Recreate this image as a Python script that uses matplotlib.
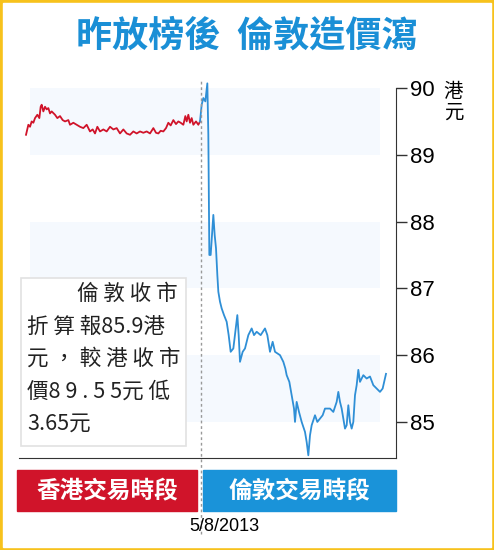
import matplotlib
matplotlib.use('Agg')
import matplotlib.pyplot as plt
from matplotlib.patches import Rectangle

plt.rcParams['font.family'] = ['Noto Sans CJK TC', 'DejaVu Sans']

# time axis (arbitrary session units), prices in HK$
hk_x = [78, 85, 90, 95, 100, 105, 112, 118, 122, 125, 130, 135, 140, 145, 150, 155, 165, 172, 180, 188, 195, 205, 210, 220, 230,
        240, 250, 260, 270, 278, 285, 292, 300, 310, 320, 330, 340, 350, 360, 370, 380, 390, 400, 410, 420, 430, 440,
        450, 460, 468, 475, 482, 490, 498, 505, 512, 520, 528, 535, 542, 550, 556, 560, 565, 570, 575, 580, 588, 595, 600]
hk_y = [89.3, 89.45, 89.42, 89.5, 89.48, 89.55, 89.6, 89.55, 89.72, 89.75, 89.65, 89.72, 89.68, 89.7, 89.62, 89.65, 89.6, 89.55, 89.58, 89.52, 89.5, 89.52, 89.45, 89.48, 89.45,
        89.42, 89.4, 89.45, 89.35, 89.38, 89.32, 89.42, 89.35, 89.38, 89.35, 89.42, 89.38, 89.4, 89.32, 89.38, 89.32, 89.3, 89.35, 89.32, 89.35, 89.33, 89.35,
        89.32, 89.4, 89.33, 89.32, 89.36, 89.35, 89.4, 89.48, 89.44, 89.52, 89.46, 89.5, 89.48, 89.45, 89.58, 89.5, 89.6, 89.48, 89.55, 89.45, 89.5, 89.45, 89.5]
ld_x = [600, 605, 610, 616, 622, 625, 628, 632, 640, 644, 648, 652, 655, 660, 665, 672, 680, 686, 692, 700, 712, 716, 720, 728,
        735, 745, 755, 762, 770, 782, 795, 802, 810, 818, 825, 840, 850, 856, 860, 868, 875, 882, 885, 890, 897, 905,
        915, 920, 925, 930, 935, 945, 952, 960, 968, 975, 990, 1000, 1010, 1015, 1020, 1025, 1030, 1035, 1040, 1045,
        1050, 1055, 1060, 1065, 1070, 1075, 1080, 1090, 1100, 1110, 1120, 1130, 1140, 1148, 1158]
ld_y = [89.5, 89.75, 89.85, 89.8, 90.07, 89.3, 87.5, 87.5, 88.1, 87.8, 87.6, 87.2, 86.95, 86.8, 86.7, 86.6, 86.5, 86.3, 86.05, 86.1, 86.6, 86.3, 85.9, 86.05,
        86.1, 86.3, 86.4, 86.3, 86.35, 86.3, 86.4, 86.3, 86.05, 86.2, 86.05, 86.0, 85.9, 85.8, 85.7, 85.6, 85.4, 85.2, 85.0, 85.3, 85.15, 85.0,
        84.85, 84.7, 84.5, 84.8, 84.95, 85.1, 85.0, 85.05, 85.1, 85.2, 85.2, 85.15, 85.3, 85.45, 85.3, 85.2, 85.05, 84.9, 84.95, 85.25,
        85.0, 84.9, 85.0, 85.4, 85.55, 85.78, 85.6, 85.7, 85.65, 85.68, 85.55, 85.5, 85.45, 85.5, 85.72]
yticks = [85, 86, 87, 88, 89, 90]

fig = plt.figure(figsize=(4.94, 5.5), dpi=100)
fig.patch.set_facecolor('#f7c21c')
fig.add_artist(Rectangle((0.007, 0.005), 0.986, 0.99, transform=fig.transFigure, color='white', zorder=0))

ax = fig.add_axes([0.0385, 0.1673, 0.7631, 0.6872])
ax.set_xlim(57, 1188)
ax.set_ylim(84.46, 90.12)
for lo in [89, 87, 85]:
    ax.fill_between([90, 1140], lo, lo + 1, color='#f5f9fe', lw=0, zorder=0)
ax.plot(hk_x, hk_y, color='#d0142a', lw=1.3)
ax.plot(ld_x, ld_y, color='#2f8fd6', lw=1.3)
ax.axvline(603, color='#999999', ls=(0, (2, 2)), lw=1, ymin=-0.2, clip_on=False)

ax.yaxis.tick_right()
ax.set_yticks(yticks)
ax.set_yticklabels([str(t) for t in yticks], fontsize=16, family='Liberation Sans')
ax.tick_params(axis='y', length=8, width=1, color='#333333', pad=2)
ax.set_xticks([])
for s in ['top', 'left']:
    ax.spines[s].set_visible(False)
ax.spines['right'].set_color('#333333')
ax.spines['bottom'].set_color('#333333')
ax.spines['right'].set_bounds(84.46, 90.0)
fig.text(0.918, 0.815, '港\n元', fontsize=14, va='center', ha='center', linespacing=1.0)

fig.text(0.5, 0.935, '昨放榜後  倫敦造價瀉', fontsize=26, weight='bold', color='#1a8fd6', ha='center', va='center')

# note box
fig.add_artist(Rectangle((0.042, 0.189), 0.335, 0.305, transform=fig.transFigure, facecolor='white',
                         edgecolor='#e2e2e2', lw=1.2, zorder=3))
lines = ['倫 敦 收 市', '折 算 報85.9港', '元 ， 較 港 收 市', '價8 9 . 5 5元 低', '3.65元']
for i, t in enumerate(lines):
    ha = 'right' if i == 0 else 'left'
    x = 0.36 if i == 0 else 0.055
    fig.text(x, 0.465 - i * 0.059, t, fontsize=15.5, ha=ha, va='center', zorder=4, color='#222222')

fig.add_artist(Rectangle((0.035, 0.071), 0.364, 0.074, transform=fig.transFigure, color='#d0142a'))
fig.add_artist(Rectangle((0.411, 0.071), 0.391, 0.074, transform=fig.transFigure, color='#1a93d9'))
fig.text(0.217, 0.108, '香港交易時段', fontsize=17, weight='bold', color='white', ha='center', va='center')
fig.text(0.606, 0.108, '倫敦交易時段', fontsize=17, weight='bold', color='white', ha='center', va='center')
fig.text(0.455, 0.042, '5/8/2013', fontsize=13, ha='center', va='center', family='Liberation Sans')

fig.savefig('out.png', dpi=100, facecolor=fig.get_facecolor())
